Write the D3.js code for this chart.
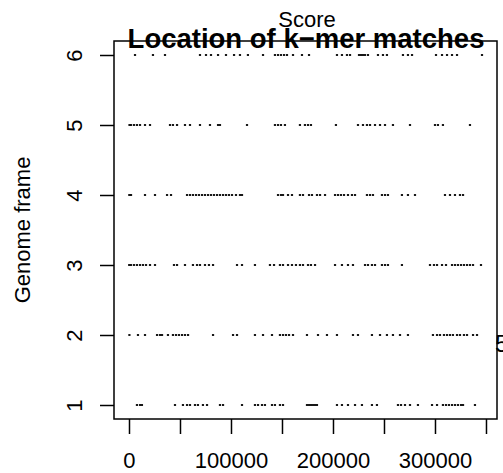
<!DOCTYPE html>
<html>
<head>
<meta charset="utf-8">
<script src="https://cdn.jsdelivr.net/npm/d3@7"></script>
<style>
  body { margin: 0; background: #fff; }
  svg { display: block; }
  text { font-family: "Liberation Sans", Arial, sans-serif; fill: #000; }
</style>
</head>
<body>
<div id="chart-area"></div>
<script>
// k-mer match positions (genome coordinate) for each genome frame
var frame1 = [7800, 10800, 12700, 45100, 52900, 56900, 59800, 64700, 67600, 72500, 76500, 89200, 92200,
  110800, 123500, 126500, 130400, 133300, 140200, 143100, 148000, 151000, 174500, 176500, 178400, 180400,
  182400, 184300, 203900, 208800, 214700, 221600, 228400, 238200, 243100, 263700, 266700, 270600, 275500,
  283300, 297100, 302000, 307800, 310800, 313700, 316700, 319600, 322500, 325500, 327500, 339200];
var frame2 = [400, 8800, 15700, 27500, 30400, 32400, 38200, 43100, 46100, 49000, 52000, 54900, 57900,
  82400, 102000, 105900, 123500, 131400, 140200, 148000, 151000, 153900, 156900, 160800, 174500, 185300,
  194100, 203900, 219600, 224500, 238200, 246100, 252900, 258800, 265700, 273500, 298000, 302000, 304900,
  308800, 311800, 314700, 317600, 321600, 324500, 328400, 331400, 337300, 341200];
var frame3 = [200, 2000, 4900, 7800, 10800, 13700, 16700, 20600, 25500, 44100, 47100, 54900, 62700, 66700,
  69600, 74500, 78400, 82400, 105900, 110800, 123500, 138200, 142200, 148000, 151000, 155900, 159800,
  163700, 167600, 170600, 175500, 178400, 182400, 202000, 208800, 214700, 219600, 231400, 234300, 238200,
  241200, 248000, 251000, 253900, 267600, 295100, 299000, 302000, 306900, 310800, 316700, 319600, 322500,
  325500, 328400, 331400, 334300, 337300, 345100];
var frame4 = [300, 2000, 15700, 25500, 37300, 41200, 56900, 59800, 62700, 65700, 68600, 71600, 74500, 77500,
  80400, 83300, 86300, 89200, 92200, 95100, 98000, 101000, 104900, 108800, 110800, 146100, 149000, 151000,
  155900, 159800, 167600, 170600, 176500, 179400, 184300, 187300, 192200, 202000, 204900, 207800, 210800,
  214700, 218600, 221600, 233300, 236300, 239200, 248000, 251000, 253900, 267600, 273500, 280400, 309800,
  314700, 319600, 324500, 327500];
var frame5 = [500, 2000, 4900, 7800, 10800, 15700, 20600, 40200, 43100, 47100, 54900, 59800, 69600, 79400,
  87300, 89200, 115700, 143100, 146100, 149000, 152900, 167600, 172500, 175500, 178400, 202900, 224500,
  229400, 233300, 236300, 241200, 246100, 251000, 258800, 275500, 300000, 302900, 307800, 334300];
var frame6 = [5900, 23500, 35300, 69600, 75500, 80400, 87300, 95100, 103000, 108800, 116600, 131400, 143100,
  146100, 149000, 152000, 154900, 160800, 169600, 176500, 203900, 208800, 213700, 216700, 225500, 227500,
  229400, 231400, 234300, 244100, 249000, 252900, 268600, 273500, 277500, 301000, 306900, 311800, 316700,
  321600, 346100];

var frames = [frame1, frame2, frame3, frame4, frame5, frame6];
var frameTicks = [1, 2, 3, 4, 5, 6];
var xTicks = [0, 50000, 100000, 150000, 200000, 250000, 300000, 350000];
var xLabels = [0, 100000, 200000, 300000];

var width = 503, height = 473;

var svg = d3.select("#chart-area").append("svg")
  .attr("width", width).attr("height", height);

// plot region 114..497 x 41..419 (R style 4% padding)
var x = d3.scaleLinear().domain([-14700, 360800]).range([114, 497]);
var y = d3.scaleLinear().domain([0.8, 6.2]).range([419, 41]);

// points
var pts = [];
frames.forEach(function(f, i) {
  f.forEach(function(v) { pts.push({pos: v, frame: i + 1}); });
});

svg.selectAll("rect.pt")
  .data(pts)
  .enter()
  .append("rect")
  .attr("class", "pt")
  .attr("x", function(d) { return x(d.pos) - 1.1; })
  .attr("y", function(d) { return y(d.frame) - 0.9; })
  .attr("width", 2.2)
  .attr("height", 1.8)
  .attr("fill", "#000");

// axes
var xAxis = d3.axisBottom(x)
  .tickValues(xTicks)
  .tickSize(15)
  .tickPadding(18)
  .tickFormat(function(d) { return xLabels.indexOf(d) >= 0 ? d : ""; });

var gx = svg.append("g")
  .attr("transform", "translate(0,419)")
  .call(xAxis);
gx.select(".domain").remove();
gx.selectAll("line").attr("stroke", "#000").attr("stroke-width", 1.5);
gx.selectAll("text").style("font-size", "22px").attr("fill", "#000")
  .style("font-family", "'Liberation Sans', Arial, sans-serif");

var yAxis = d3.axisLeft(y)
  .tickValues(frameTicks)
  .tickSize(14)
  .tickFormat(d3.format("d"));

var gy = svg.append("g")
  .attr("transform", "translate(114,0)")
  .call(yAxis);
gy.select(".domain").remove();
gy.selectAll("line").attr("stroke", "#000").attr("stroke-width", 1.5);
gy.selectAll("text")
  .attr("x", null)
  .attr("dy", "0.35em")
  .attr("text-anchor", "middle")
  .attr("transform", "translate(-39.5,0) rotate(-90)")
  .attr("fill", "#000")
  .style("font-size", "22px")
  .style("font-family", "'Liberation Sans', Arial, sans-serif");

// titles
svg.append("text")
  .attr("x", 307)
  .attr("y", 27)
  .attr("text-anchor", "middle")
  .style("font-size", "22px")
  .text("Score");

svg.append("text")
  .attr("x", 306)
  .attr("y", 48)
  .attr("text-anchor", "middle")
  .style("font-size", "27.5px")
  .style("font-weight", "bold")
  .text("Location of k\u2212mer matches");

svg.append("text")
  .attr("transform", "translate(30,230) rotate(-90)")
  .attr("text-anchor", "middle")
  .style("font-size", "22px")
  .text("Genome frame");

svg.append("text")
  .attr("x", 495)
  .attr("y", 352)
  .style("font-size", "24px")
  .text("5");

// frame box
svg.append("rect")
  .attr("x", 114).attr("y", 41)
  .attr("width", 497 - 114).attr("height", 419 - 41)
  .attr("fill", "none")
  .attr("stroke", "#000")
  .attr("stroke-width", 1.5);
</script>
</body>
</html>
